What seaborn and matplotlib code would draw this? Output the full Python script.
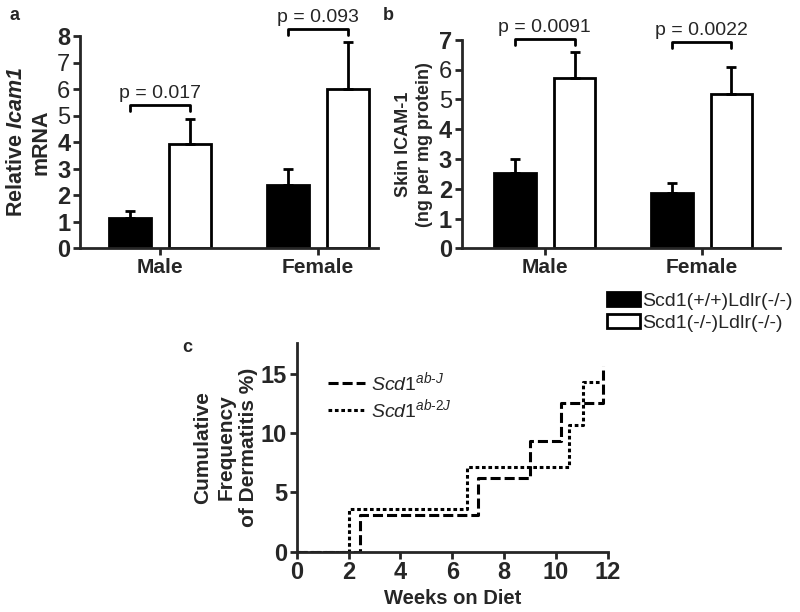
import matplotlib
matplotlib.use("Agg")
import matplotlib.pyplot as plt
import seaborn as sns
import pandas as pd
from matplotlib.patches import Patch

# datos
grupos = ["Male", "Female"]
genotipos = ["Scd1(+/+)Ldlr(-/-)", "Scd1(-/-)Ldlr(-/-)"]

# panel a: Icam1 mRNA relativo (media y error superior)
mrna_wt = [1.13, 2.39]
mrna_ko = [3.93, 6.00]
mrna_wt_err = [0.29, 0.61]
mrna_ko_err = [0.94, 1.76]
mrna_p = ["p = 0.017", "p = 0.093"]

# panel b: ICAM-1 en piel (ng por mg proteina)
prot_wt = [2.54, 1.87]
prot_ko = [5.71, 5.17]
prot_wt_err = [0.45, 0.31]
prot_ko_err = [0.88, 0.93]
prot_p = ["p = 0.0091", "p = 0.0022"]

# panel c: frecuencia acumulada de dermatitis (%)
semanas_abj = [0, 2.45, 7.0, 9.0, 10.2, 11.82]
freq_abj = [0, 3.125, 6.25, 9.375, 12.5, 15.625]
semanas_ab2j = [0, 2.0, 6.55, 10.5, 11.05, 11.75]
freq_ab2j = [0, 3.57, 7.14, 10.71, 14.29, 14.29]

sns.set_style("ticks")
plt.rcParams["font.family"] = ["Liberation Sans", "DejaVu Sans"]
plt.rcParams["mathtext.fontset"] = "custom"
plt.rcParams["mathtext.rm"] = "Liberation Sans"
plt.rcParams["mathtext.it"] = "Liberation Sans:italic"
plt.rcParams["mathtext.bf"] = "Liberation Sans:bold"
plt.rcParams["mathtext.bfit"] = "Liberation Sans:italic:bold"

colores = {genotipos[0]: "black", genotipos[1]: "white"}


def estilo_ejes(ax):
    sns.despine(ax=ax)
    for s in ["left", "bottom"]:
        ax.spines[s].set_linewidth(2)
    ax.tick_params(direction="out", length=5, width=2, labelsize=17, pad=2)
    for lab in ax.get_xticklabels() + ax.get_yticklabels():
        lab.set_fontweight("bold")


def panel_barras(ax, wt, ko, wt_err, ko_err, textos_p, alturas, ylim, ylabel, ylabel_size, interlineado):
    df = pd.DataFrame({
        "grupo": grupos * 2,
        "genotipo": [genotipos[0]] * 2 + [genotipos[1]] * 2,
        "valor": wt + ko,
    })
    sns.barplot(data=df, x="grupo", y="valor", hue="genotipo", palette=colores,
                width=0.76, gap=0.3, edgecolor="black", linewidth=2,
                errorbar=None, legend=False, ax=ax)
    errs = wt_err + ko_err
    xs = [p.get_x() + p.get_width() / 2 for p in ax.patches]
    ys = [p.get_height() for p in ax.patches]
    ax.errorbar(xs, ys, yerr=[[0] * len(errs), errs], fmt="none", ecolor="black",
                elinewidth=2, capsize=3.6, capthick=2, zorder=1)
    # corchetes de significancia
    tip = (ylim[1] - ylim[0]) * 0.028
    for i, (txt, h) in enumerate(zip(textos_p, alturas)):
        x1, x2 = xs[i], xs[i + 2]
        ax.plot([x1, x1, x2, x2], [h - tip, h, h, h - tip], color="black", lw=2,
                clip_on=False, solid_joinstyle="round")
        ax.annotate(txt, xy=((x1 + x2) / 2, h), xytext=(0, 5), textcoords="offset points",
                    ha="center", va="baseline", fontsize=14, annotation_clip=False)
    ax.set_ylim(*ylim)
    ax.set_xlabel("")
    ax.set_ylabel(ylabel, fontsize=ylabel_size, fontweight="bold", linespacing=interlineado)
    estilo_ejes(ax)
    for lab in ax.get_xticklabels():
        lab.set_fontsize(15)


fig = plt.figure(figsize=(8, 6.12), dpi=100)

ax_a = fig.add_axes([0.1, 0.5943, 0.3725, 0.3469])
panel_barras(ax_a, mrna_wt, mrna_ko, mrna_wt_err, mrna_ko_err, mrna_p, [5.41, 8.26],
             (0, 8), "Relative $\\mathbfit{Icam1}$\nmRNA", 15.5, 1.22)
ax_a.set_xlim(-0.51, 1.38)
ax_a.set_yticks(range(0, 9))

ax_b = fig.add_axes([0.577, 0.5943, 0.398, 0.3404])
panel_barras(ax_b, prot_wt, prot_ko, prot_wt_err, prot_ko_err, prot_p, [7.03, 6.94],
             (0, 7), "Skin ICAM-1\n(ng per mg protein)", 13, 1.35)
ax_b.set_xlim(-0.53, 1.5)
ax_b.set_yticks(range(0, 8))

fig.legend(handles=[Patch(facecolor="black", edgecolor="black", linewidth=2),
                    Patch(facecolor="white", edgecolor="black", linewidth=2)],
           labels=genotipos, loc="upper left", bbox_to_anchor=(607 / 800, 1 - 292 / 612),
           frameon=False, fontsize=14, handlelength=1.7, handleheight=0.7,
           handletextpad=0.1, labelspacing=0.25, borderpad=0, borderaxespad=0)

# panel c
ax_c = fig.add_axes([0.3709, 0.0985, 0.389, 0.341])
sns.lineplot(x=semanas_abj, y=freq_abj, drawstyle="steps-post", estimator=None, sort=False,
             color="black", lw=2.2, linestyle=(0, (3.3, 1.3)),
             label="$\\mathit{Scd1}^{\\mathit{ab\u2010J}}$", ax=ax_c)
sns.lineplot(x=semanas_ab2j, y=freq_ab2j, drawstyle="steps-post", estimator=None, sort=False,
             color="black", lw=2.2, linestyle=(0, (1.2, 0.9)),
             label="$\\mathit{Scd1}^{\\mathit{ab\u20102J}}$", ax=ax_c)
ax_c.set_xlim(0, 12)
ax_c.set_ylim(0, 17.6)
ax_c.set_xticks(range(0, 13, 2))
ax_c.set_yticks([0, 5, 10, 15])
ax_c.set_xlabel("Weeks on Diet", fontsize=14.5, fontweight="bold", labelpad=3)
ax_c.set_ylabel("Cumulative\nFrequency\nof Dermatitis %)", fontsize=15, fontweight="bold",
                linespacing=1.25, labelpad=2)
estilo_ejes(ax_c)
ax_c.legend(loc="upper left", bbox_to_anchor=(0.1, 0.87), frameon=False, fontsize=14,
            handlelength=1.9, handletextpad=0.3, labelspacing=0.15, borderpad=0,
            borderaxespad=0)

# letras de panel
fig.text(10 / 800, 1 - 15 / 612, "a", fontsize=13, fontweight="bold", va="center")
fig.text(383 / 800, 1 - 15 / 612, "b", fontsize=13, fontweight="bold", va="center")
fig.text(182 / 800, 1 - 347 / 612, "c", fontsize=13, fontweight="bold", va="center")

fig.savefig("out.png", dpi=100)
